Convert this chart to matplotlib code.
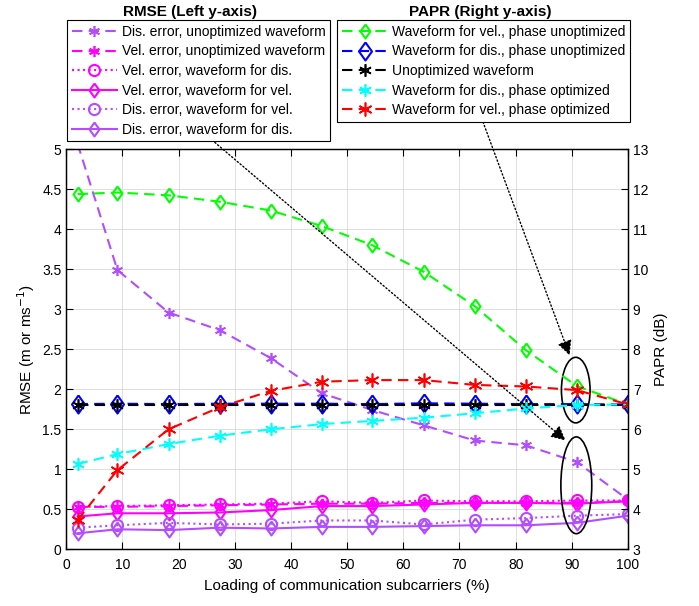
import numpy as np
import matplotlib
matplotlib.use("Agg")
import matplotlib.pyplot as plt
from matplotlib.patches import Ellipse

plt.rcParams['font.family'] = ['Liberation Sans', 'DejaVu Sans']
plt.rcParams['font.size'] = 10

# loading of communication subcarriers (%)
load = [2, 9.1, 18.2, 27.3, 36.4, 45.5, 54.5, 63.6, 72.7, 81.8, 90.9, 100]

# RMSE (left axis)
dis_unopt = [5.07, 3.49, 2.96, 2.74, 2.39, 1.95, 1.74, 1.55, 1.36, 1.30, 1.09, 0.62]
vel_unopt = [0.53, 0.53, 0.54, 0.55, 0.56, 0.57, 0.57, 0.58, 0.58, 0.58, 0.58, 0.60]
vel_wf_dis = [0.53, 0.54, 0.55, 0.56, 0.57, 0.60, 0.58, 0.61, 0.60, 0.60, 0.61, 0.61]
vel_wf_vel = [0.41, 0.45, 0.45, 0.46, 0.49, 0.54, 0.54, 0.56, 0.58, 0.58, 0.57, 0.60]
dis_wf_vel = [0.27, 0.30, 0.33, 0.31, 0.32, 0.36, 0.36, 0.31, 0.37, 0.39, 0.42, 0.44]
dis_wf_dis = [0.20, 0.25, 0.24, 0.27, 0.26, 0.28, 0.28, 0.29, 0.30, 0.30, 0.33, 0.42]

# PAPR (right axis, dB)
papr_vel_unopt = [11.88, 11.92, 11.85, 11.69, 11.47, 11.08, 10.60, 9.94, 9.08, 7.98, 7.08, 6.62]
papr_dis_unopt = [6.63, 6.64, 6.63, 6.64, 6.64, 6.64, 6.63, 6.65, 6.64, 6.63, 6.63, 6.62]
papr_unopt = [6.61, 6.61, 6.61, 6.61, 6.61, 6.61, 6.61, 6.61, 6.61, 6.61, 6.61, 6.61]
papr_dis_opt = [5.13, 5.38, 5.63, 5.84, 6.00, 6.13, 6.21, 6.29, 6.40, 6.52, 6.61, 6.62]
papr_vel_opt = [3.73, 4.98, 6.00, 6.55, 6.96, 7.19, 7.23, 7.23, 7.11, 7.07, 6.98, 6.62]

purple = (0.70, 0.30, 1.0)
magenta = (1.0, 0.0, 1.0)
ast = (6, 2, 0)
diam = [(0, 1), (0.72, 0), (0, -1), (-0.72, 0), (0, 1)]
dash = (0, (5, 3))

fig = plt.figure(figsize=(6.99, 6.06), dpi=100)
ax = fig.add_axes([0.0949, 0.0936, 0.8035, 0.66])
ax2 = ax.twinx()

kw = dict(lw=1.5, mfc='none', mew=1.5)
akw = dict(lw=1.5, mfc='none', mew=1.2)
l1, = ax.plot(load, dis_unopt, color=purple, ls=dash, marker=ast, ms=8, **akw)
l2, = ax.plot(load, vel_unopt, color=magenta, ls=dash, marker=ast, ms=8, **akw)
l3, = ax.plot(load, vel_wf_dis, color=magenta, ls=':', marker='o', ms=8, **kw)
l4, = ax.plot(load, vel_wf_vel, color=magenta, ls='-', marker=diam, ms=10, **kw)
l5, = ax.plot(load, dis_wf_vel, color=purple, ls=':', marker='o', ms=8, **kw)
l6, = ax.plot(load, dis_wf_dis, color=purple, ls='-', marker=diam, ms=10, **kw)

r1, = ax2.plot(load, papr_vel_unopt, color=(0, 1, 0), ls=dash, marker=diam, ms=10, **kw)
r2, = ax2.plot(load, papr_dis_unopt, color='blue', ls=dash, marker=diam, ms=13, **kw)
r3, = ax2.plot(load, papr_unopt, color='black', ls=dash, marker=ast, ms=9, **akw)
r4, = ax2.plot(load, papr_dis_opt, color='cyan', ls=dash, marker=ast, ms=9, **akw)
r5, = ax2.plot(load, papr_vel_opt, color='red', ls=dash, marker=ast, ms=10, **akw)

ax.set_xlim(0, 100)
ax.set_ylim(0, 5)
ax2.set_ylim(3, 13)
ax.set_xticks(np.arange(0, 101, 10))
ax.set_yticks(np.arange(0, 5.01, 0.5))
ax.set_yticklabels(['0', '0.5', '1', '1.5', '2', '2.5', '3', '3.5', '4', '4.5', '5'])
ax2.set_yticks(np.arange(3, 14, 1))
ax.grid(True, color=(0.85, 0.85, 0.85), lw=0.6)
ax.tick_params(direction='in', top=True, length=5, colors='k', labelsize=10)
ax.tick_params(axis='x', pad=6)
ax2.tick_params(direction='in', length=5, labelsize=10)
for a in (ax, ax2):
    for s in a.spines.values():
        s.set_linewidth(0.9)

ax.set_xlabel('Loading of communication subcarriers (%)', fontsize=11, labelpad=5)
ax.set_ylabel('RMSE (m or ms$^{-1}$)', fontsize=11)
ax2.set_ylabel('PAPR (dB)', fontsize=11)

# highlight ellipses at 91 %
ax2.add_patch(Ellipse((90.7, 6.98), 5.1, 1.64, fill=False, ec='k', lw=1.2))
ax2.add_patch(Ellipse((90.8, 4.6), 5.5, 2.42, fill=False, ec='k', lw=1.2))

arr = dict(arrowstyle='-|>', ls=':', color='k', lw=1, mutation_scale=22,
           shrinkA=0, shrinkB=0)
ax2.annotate('', xy=(89.6, 7.85), xycoords='data',
             xytext=(483, 484), textcoords='figure pixels', arrowprops=arr)
ax2.annotate('', xy=(88.9, 5.72), xycoords='data',
             xytext=(212, 466), textcoords='figure pixels', arrowprops=arr)

lkw = dict(loc='upper left', bbox_transform=fig.transFigure, fancybox=False,
           framealpha=1, edgecolor='k', borderaxespad=0, fontsize=10,
           handlelength=3.3, labelspacing=0.4, borderpad=0.35, handletextpad=0.3)
leg1 = ax2.legend([l1, l2, l3, l4, l5, l6],
                  ['Dis. error, unoptimized waveform', 'Vel. error, unoptimized waveform',
                   'Vel. error, waveform for dis.', 'Vel. error, waveform for vel.',
                   'Dis. error, waveform for vel.', 'Dis. error, waveform for dis.'],
                  bbox_to_anchor=(0.0954, 0.967), **lkw)
leg1.get_frame().set_linewidth(0.8)
ax2.add_artist(leg1)
leg2 = ax2.legend([r1, r2, r3, r4, r5],
                  ['Waveform for vel., phase unoptimized', 'Waveform for dis., phase unoptimized',
                   'Unoptimized waveform', 'Waveform for dis., phase optimized',
                   'Waveform for vel., phase optimized'],
                  bbox_to_anchor=(0.482, 0.967), **lkw)
leg2.get_frame().set_linewidth(0.8)

fig.text(190 / 699, 1 - 12 / 606, 'RMSE (Left y-axis)', ha='center', va='center',
         fontsize=11, fontweight='bold')
fig.text(480 / 699, 1 - 12 / 606, 'PAPR (Right y-axis)', ha='center', va='center',
         fontsize=11, fontweight='bold')

fig.savefig('out.png', dpi=100)
